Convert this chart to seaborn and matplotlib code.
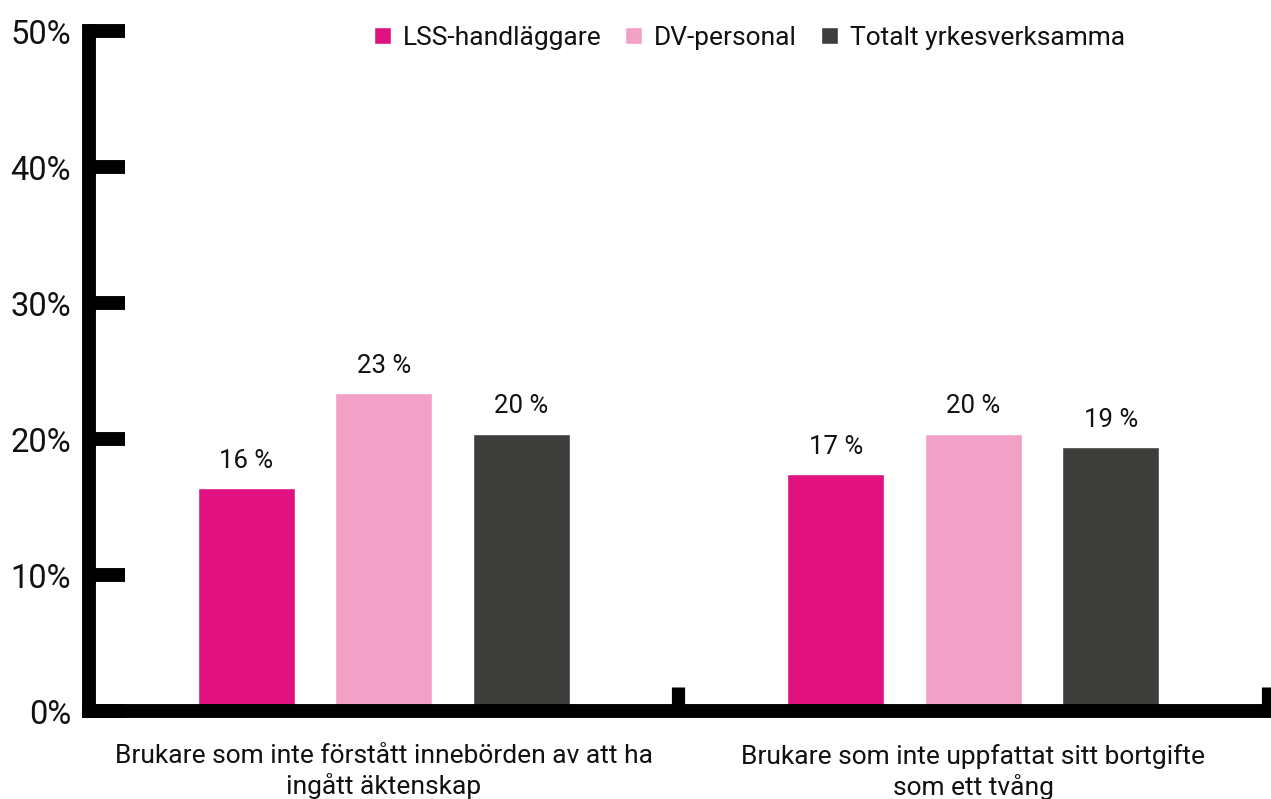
import matplotlib
matplotlib.use("Agg")
import matplotlib.pyplot as plt
import pandas as pd
import seaborn as sns
from matplotlib.ticker import FixedLocator

# Data
categories = [
    "Brukare som inte förstått innebörden av att ha\ningått äktenskap",
    "Brukare som inte uppfattat sitt bortgifte\nsom ett tvång",
]
groups = ["LSS-handläggare", "DV-personal", "Totalt yrkesverksamma"]
lss = [16.4, 17.4]
dv = [23.4, 20.4]
totalt = [20.4, 19.4]
value_labels = [["16 %", "17 %"], ["23 %", "20 %"], ["20 %", "19 %"]]
colors = ["#E1127F", "#F2A0C5", "#3D3D3C"]

rows = []
for g, vals in zip(groups, [lss, dv, totalt]):
    for c, v in zip(categories, vals):
        rows.append({"category": c, "group": g, "value": v})
df = pd.DataFrame(rows)

sns.set_style("white")
plt.rcParams["font.family"] = ["Roboto", "DejaVu Sans"]

fig = plt.figure(figsize=(12.71, 7.99), dpi=100)
ax = fig.add_axes([0.070, 0.110, 0.9276, 0.851])

sns.barplot(
    data=df, x="category", y="value", hue="group",
    palette=colors, width=0.70, gap=0.295, saturation=1,
    ax=ax, legend=True,
)

# value labels above the bars
for cont, labels in zip(ax.containers, value_labels):
    ax.bar_label(cont, labels=labels, padding=11, fontsize=18.5, color="#111111")

ax.set_xlim(-0.5, 1.5)
ax.set_ylim(0, 50)
ax.set_yticks(range(0, 51, 10))
ax.set_yticklabels([f"{v}%" for v in range(0, 51, 10)])
ax.set_xlabel("")
ax.set_ylabel("")

# thick axes like the original
for side in ["top", "right"]:
    ax.spines[side].set_visible(False)
for side in ["left", "bottom"]:
    ax.spines[side].set_linewidth(10)
    ax.spines[side].set_color("black")
    ax.spines[side].set_capstyle("projecting")

ax.tick_params(axis="y", direction="in", length=26, width=10, color="black",
               labelsize=23.5, pad=13, left=True, labelcolor="#111111")
ax.tick_params(axis="x", which="major", length=0, labelsize=19, pad=24,
               labelcolor="#111111")
ax.xaxis.set_minor_locator(FixedLocator([0.5, 1.5]))
ax.tick_params(axis="x", which="minor", direction="in", length=17, width=9.5,
               color="black", bottom=True)

leg = ax.legend(
    loc="center", bbox_to_anchor=(0.56, 0.99), ncol=3, frameon=False,
    fontsize=19, handlelength=0.65, handleheight=0.65, handletextpad=0.45,
    columnspacing=0.9,
)
for t in leg.get_texts():
    t.set_color("#111111")

fig.savefig("out.png", dpi=100)
